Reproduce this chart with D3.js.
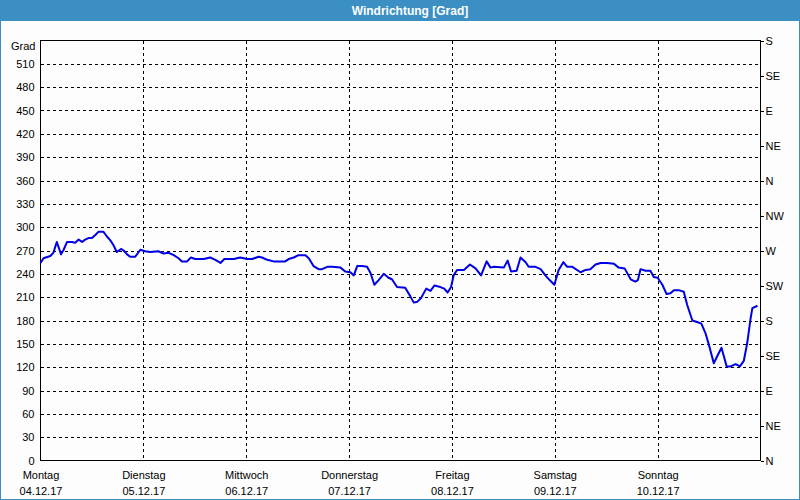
<!DOCTYPE html>
<html>
<head>
<meta charset="utf-8">
<script src="https://cdn.jsdelivr.net/npm/d3@7"></script>
<style>
  html, body { margin: 0; padding: 0; background: #fcfdfc; }
  svg { display: block; font-family: "Liberation Sans", Arial, sans-serif; }
  .axis text { font-size: 11px; fill: #000; }
  .grid line { stroke: #000; stroke-dasharray: 3,3; shape-rendering: crispEdges; }
</style>
</head>
<body>
<svg id="chart" width="800" height="500"></svg>
<script>
// Windrichtung, Woche 04.12.17 - 10.12.17
const startDate = new Date(2017, 11, 4);
const endDate = new Date(2017, 11, 11);

// hours since Monday 00:00
const hours = [
  0, 0.7, 2.3, 3.0, 3.8, 4.8, 5.4, 6.2, 7.3, 8.1, 8.9, 9.7, 10.4, 11.2, 12.0, 12.8,
  13.5, 14.7, 15.5, 16.3, 17.0, 17.8, 18.8, 19.4, 20.2, 20.9, 22.1, 23.3, 24.4, 25.6,
  27.5, 28.7, 29.9, 31.1, 32.2, 33.0, 34.2, 35.1, 36.1, 38.1, 39.6, 40.8, 42.0, 42.9,
  45.1, 46.6, 48.2, 49.4, 50.9, 51.7, 52.9, 54.4, 56.4, 57.1, 57.9, 59.1, 60.2, 61.8,
  62.6, 63.7, 64.9, 65.7, 66.9, 68.0, 70.0, 71.1, 72.3, 73.1, 73.9, 75.0, 76.2, 77.0,
  77.9, 78.9, 80.1, 81.2, 82.0, 83.2, 85.1, 86.3, 87.1, 87.9, 88.8, 90.0, 91.0, 91.9,
  93.3, 94.2, 95.0, 95.8, 96.4, 97.2, 98.8, 100.2, 101.5, 102.8, 104.1, 105.0, 105.8,
  108.1, 109.0, 109.8, 111.1, 112.0, 113.2, 113.9, 115.5, 116.7, 117.8, 118.8, 119.9,
  120.9, 122.0, 122.9, 124.1, 126.0, 127.2, 128.3, 129.5, 130.7, 132.2, 133.8, 134.9,
  136.3, 137.7, 138.8, 139.4, 140.0, 141.2, 142.3, 143.1, 144.0, 145.1, 146.1, 147.0,
  147.8, 148.9, 150.1, 150.9, 152.1, 153.2, 154.2, 155.2, 156.0, 157.1, 157.9, 158.9,
  160.1, 161.0, 162.2, 163.2, 164.1, 164.9, 165.7, 166.1, 167.3
];

// wind direction in degrees
const windDeg = [
  254, 260, 263, 267, 281, 265, 271, 281, 281, 280, 284, 281, 284, 286, 286, 290,
  294, 294, 288, 283, 277, 268, 272, 270, 265, 262, 262, 271, 269, 268,
  269, 266, 267, 264, 260, 256, 256, 261, 259, 259, 261, 258, 254, 259,
  259, 261, 259, 259, 262, 261, 258, 256, 256, 256, 259, 261, 264, 264,
  260, 250, 246, 246, 249, 249, 248, 243, 242, 238, 250, 250, 249, 241,
  226, 232, 240, 235, 233, 223, 222, 211, 203, 204, 209, 221, 218, 225,
  223, 221, 216, 223, 238, 245, 245, 252, 247, 238, 256, 248, 249,
  248, 257, 243, 244, 261, 255, 249, 249, 246, 238, 232, 226,
  245, 255, 249, 249, 242, 245, 246, 252, 254, 254, 253, 248,
  247, 233, 230, 232, 246, 244, 244, 236, 235, 226, 214, 215,
  219, 219, 217, 200, 180, 178, 176, 163, 148, 125, 134, 145,
  121, 121, 124, 121, 128, 151, 183, 196, 199
];

const leftTicks = [0, 30, 60, 90, 120, 150, 180, 210, 240, 270, 300, 330, 360, 390, 420, 450, 480, 510];
const compassTicks = [0, 45, 90, 135, 180, 225, 270, 315, 360, 405, 450, 495, 540];
const compassLabels = ["N", "NE", "E", "SE", "S", "SW", "W", "NW", "N", "NE", "E", "SE", "S"];
const dayNames = ["Montag", "Dienstag", "Mittwoch", "Donnerstag", "Freitag", "Samstag", "Sonntag"];
const dayDates = ["04.12.17", "05.12.17", "06.12.17", "07.12.17", "08.12.17", "09.12.17", "10.12.17"];

const title = "Windrichtung [Grad]";
const blue = "#3b8fc3";

const svg = d3.select("#chart");
const W = 800, H = 500;
const plot = { left: 40.5, right: 760.5, top: 40.5, bottom: 460.5 };

svg.append("rect").attr("width", W).attr("height", H).attr("fill", "#fcfdfc");

// title bar + window frame
svg.append("rect").attr("x", 0).attr("y", 0).attr("width", W).attr("height", 21).attr("fill", blue);
svg.append("rect").attr("x", 0.5).attr("y", 0.5).attr("width", W - 1).attr("height", H - 1)
  .attr("fill", "none").attr("stroke", blue);
svg.append("text").attr("x", 410).attr("y", 15).attr("text-anchor", "middle")
  .attr("fill", "#fff").attr("font-size", "12px").attr("font-weight", "bold").text(title);

const x = d3.scaleTime().domain([startDate, endDate]).range([plot.left, plot.right]);
const y = d3.scaleLinear().domain([0, 540]).range([plot.bottom, plot.top]);
const dayTicks = d3.range(dayNames.length).map(i => d3.timeDay.offset(startDate, i));

// grid
const grid = svg.append("g").attr("class", "grid");
grid.selectAll(".h").data(leftTicks.filter(v => v > 0)).join("line")
  .attr("x1", plot.left).attr("x2", plot.right)
  .attr("y1", d => Math.round(y(d)) + 0.5).attr("y2", d => Math.round(y(d)) + 0.5);
grid.selectAll(".v").data(dayTicks.slice(1)).join("line")
  .attr("y1", plot.top).attr("y2", plot.bottom)
  .attr("x1", d => Math.round(x(d)) + 0.5).attr("x2", d => Math.round(x(d)) + 0.5);

// frame
svg.append("rect").attr("x", plot.left).attr("y", plot.top)
  .attr("width", plot.right - plot.left).attr("height", plot.bottom - plot.top)
  .attr("fill", "none").attr("stroke", "#000").attr("shape-rendering", "crispEdges");

// left axis
const leftAxis = svg.append("g").attr("class", "axis")
  .attr("transform", `translate(${plot.left},0)`)
  .call(d3.axisLeft(y).tickValues(leftTicks).tickSize(0).tickPadding(6));
leftAxis.select(".domain").remove();
leftAxis.attr("font-family", null).attr("font-size", null);

svg.append("text").attr("class", "axis").attr("x", 35.5).attr("y", 50)
  .attr("text-anchor", "end").attr("font-size", "11px").text("Grad");

// right compass axis
const rightAxis = svg.append("g").attr("class", "axis")
  .attr("transform", `translate(${plot.right},0)`)
  .call(d3.axisRight(y).tickValues(compassTicks).tickSize(3).tickPadding(2)
    .tickFormat((d, i) => compassLabels[i]));
rightAxis.select(".domain").remove();
rightAxis.attr("font-family", null).attr("font-size", null);
rightAxis.selectAll("line").attr("shape-rendering", "crispEdges");

// bottom day axis
const bottomAxis = svg.append("g").attr("class", "axis")
  .attr("transform", `translate(0,${plot.bottom})`)
  .call(d3.axisBottom(x).tickValues(dayTicks).tickSize(0).tickFormat(() => ""));
bottomAxis.select(".domain").remove();
bottomAxis.attr("font-family", null).attr("font-size", null);
bottomAxis.selectAll(".tick text").each(function (d, i) {
  const t = d3.select(this).attr("y", 0).attr("dy", null);
  t.append("tspan").attr("x", 0).attr("y", 18).text(dayNames[i]);
  t.append("tspan").attr("x", 0).attr("y", 34).text(dayDates[i]);
});

// wind line
const series = hours.map((h, i) => ({ t: new Date(+startDate + h * 3600e3), v: windDeg[i] }));
const line = d3.line().x(d => x(d.t)).y(d => y(d.v));
svg.append("path").datum(series)
  .attr("d", line)
  .attr("fill", "none")
  .attr("stroke", "#0000e6")
  .attr("stroke-width", 2)
  .attr("stroke-linejoin", "round");
</script>
</body>
</html>
